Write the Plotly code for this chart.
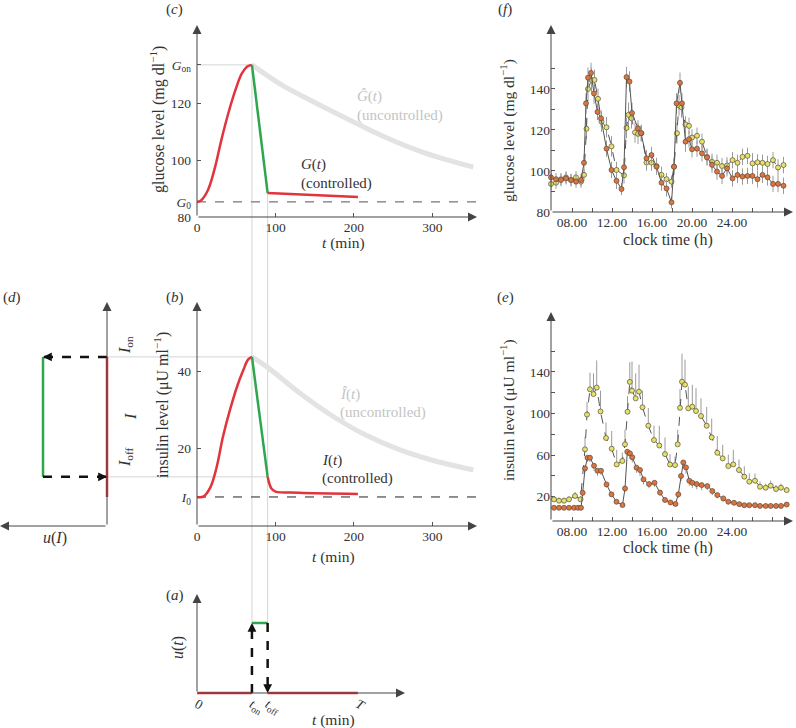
import plotly.graph_objects as go

W, H = 796, 728
FONT = "Liberation Serif, DejaVu Serif, Times New Roman, serif"
INK = "#333333"
AXIS = "#444444"
RED = "#e0353c"
GREEN = "#2ea64e"
HAT = "#e3e3e3"
GUIDE = "#d4d4d4"
DOT_RED = "#dd7440"
DOT_YEL = "#e2e46a"

# ---- schematic model (panels a-d), t in min ----
t_on, t_off, T_end = 70, 90, 205
G0, G_on = 85.3, 133.4
I0, I_on, I_off = 7.5, 43.7, 12.7

g_rise_t = [0, 5, 14, 23, 31, 40, 49, 57, 64, 70]
g_rise = [85.3, 85.8, 89.5, 97.5, 107, 116.5, 124.6, 130.3, 132.8, 133.4]
g_fall_t = [70, 90]
g_fall = [133.4, 88.4]
g_tail_t = [90, 205]
g_tail = [88.4, 87.0]
g_hat_t = [70, 110, 150, 195, 240, 290, 352]
g_hat = [133.4, 126.0, 120.2, 114.0, 108.0, 102.5, 97.5]

i_rise_t = [0, 8, 17, 25, 33, 42, 51, 59, 65, 70]
i_rise = [7.5, 7.6, 10, 15.2, 23, 30, 36, 40.3, 43, 43.7]
i_fall_t = [70, 90]
i_fall = [43.7, 12.7]
i_tail_t = [90, 95, 100, 130, 205]
i_tail = [12.7, 9.6, 8.9, 8.6, 8.3]
i_hat_t = [70, 90, 130, 172, 215, 257, 300, 352]
i_hat = [43.7, 41.0, 34.5, 28.5, 23.5, 19.8, 17.0, 14.5]

# ---- measured profiles (panels e, f), clock time in hours ----
glc_red_t = [5.9, 6.4, 6.9, 7.4, 7.9, 8.4, 8.9, 9.2, 9.4, 9.6, 9.9, 10.2, 10.55, 10.9, 11.45, 11.95,
             12.45, 12.95, 13.2, 13.45, 13.75, 14.0, 14.6, 14.9, 15.45, 15.95, 16.45, 16.95, 17.45,
             17.95, 18.2, 18.45, 18.8, 19.0, 19.35, 19.7, 20.0, 20.5, 21.0, 21.5, 22.0, 22.5, 23.0,
             23.5, 24.05, 24.55, 25.05, 25.55, 26.05, 26.55, 27.05, 27.55, 28.1, 28.6, 29.15]
glc_red = [96.9, 96.0, 95.6, 96.4, 95.6, 94.8, 95.6, 104.0, 133.0, 145.5, 147.8, 137.8, 128.8, 125.7,
           110.9, 100.5, 95.2, 91.2, 101.8, 145.8, 143.6, 128.3, 120.8, 118.5, 106.2, 107.8, 102.1,
           94.3, 91.5, 84.7, 102.1, 133.0, 143.0, 133.0, 114.3, 115.5, 110.6, 110.9, 108.6, 106.6,
           103.0, 99.7, 97.6, 101.3, 96.4, 98.1, 97.3, 97.6, 97.6, 96.0, 98.1, 96.9, 93.7, 93.7, 92.8]
glc_red_err = [3, 3, 3, 3, 3, 3, 3, 4, 5, 5, 5, 5, 4, 4, 4, 4, 4, 3, 4, 5, 5, 5, 4, 4, 4, 4, 4,
               4, 4, 3, 4, 5, 5, 5, 5, 4, 4, 4, 4, 4, 4, 4, 4, 4, 4, 4, 4, 4, 4, 4, 4, 4, 4, 4, 4]

glc_yel_t = [5.9, 6.4, 6.9, 7.4, 7.9, 8.4, 8.9, 9.2, 9.45, 9.6, 9.95, 10.25, 10.6, 10.95, 11.45,
             11.95, 12.45, 13.2, 13.45, 13.65, 13.95, 14.3, 14.6, 14.95, 15.45, 15.95, 16.45, 16.95,
             17.45, 17.95, 18.2, 18.5, 18.7, 18.95, 19.35, 19.7, 20.0, 20.5, 21.0, 21.5, 22.0, 22.5,
             23.0, 23.5, 24.05, 24.55, 25.05, 25.55, 26.05, 26.55, 27.05, 27.55, 28.1, 28.6, 29.15]
glc_yel = [93.7, 94.3, 96.0, 96.9, 95.6, 96.9, 94.8, 98.1, 120.6, 140.0, 144.4, 144.4, 135.2, 124.1,
           121.3, 112.0, 100.5, 97.9, 121.0, 127.4, 125.7, 118.8, 118.1, 118.4, 104.1, 104.1, 102.4,
           98.1, 96.0, 94.8, 102.1, 118.4, 132.0, 131.0, 122.7, 122.0, 116.3, 117.2, 114.3, 106.9,
           104.5, 104.0, 102.4, 102.7, 105.3, 104.0, 106.9, 107.4, 103.7, 104.2, 104.0, 103.4,
           105.3, 101.7, 102.9]
glc_yel_err = [3, 3, 3, 3, 3, 3, 3, 3, 5, 6, 6, 5, 5, 5, 5, 5, 4, 4, 5, 6, 5, 5, 5, 4, 4, 4, 4,
               4, 3, 3, 4, 5, 5, 5, 4, 4, 4, 4, 4, 4, 4, 4, 4, 4, 4, 4, 4, 4, 5, 4, 4, 4, 4, 4, 4]

ins_red_t = [6.2, 6.7, 7.2, 7.7, 8.2, 8.6, 8.9, 9.07, 9.3, 9.55, 9.8, 10.2, 10.55, 10.9, 11.45,
             11.95, 12.45, 13.05, 13.3, 13.53, 13.8, 14.03, 14.45, 14.8, 15.15, 15.7, 16.25, 16.8,
             17.3, 17.85, 18.35, 18.63, 18.9, 19.13, 19.4, 19.73, 20.03, 20.47, 20.97, 21.53, 22.03,
             22.53, 23.13, 23.63, 24.2, 24.73, 25.23, 25.73, 26.3, 26.8, 27.37, 27.87, 28.4, 28.9, 29.47]
ins_red = [9.4, 9.4, 9.4, 9.4, 9.4, 9.4, 9.4, 23.8, 47.3, 57.5, 57.5, 49.8, 45.0, 45.0, 31.9, 22.3,
           15.2, 12.0, 28.0, 63.3, 61.7, 57.9, 48.0, 45.7, 36.7, 32.2, 33.5, 24.0, 16.9, 14.5, 13.1,
           22.3, 40.0, 53.0, 48.2, 35.4, 33.5, 32.2, 31.2, 30.3, 25.5, 21.6, 18.4, 15.2, 14.2, 12.9,
           11.9, 11.9, 11.9, 11.2, 11.2, 11.2, 11.2, 11.2, 12.5]
ins_red_err = [1, 1, 1, 1, 1, 1, 1, 3, 4, 4, 4, 5, 5, 4, 3, 2, 2, 1, 3, 4, 5, 5, 5, 6, 5, 4, 4,
               3, 2, 2, 1, 3, 5, 6, 6, 5, 5, 5, 5, 4, 4, 3, 3, 2, 2, 2, 2, 1, 1, 1, 1, 1, 1, 1, 1]

ins_yel_t = [6.2, 6.7, 7.2, 7.7, 8.3, 8.85, 9.3, 9.5, 9.8, 10.15, 10.47, 10.85, 11.4, 11.97, 12.47,
             13.03, 13.3, 13.55, 13.78, 14.0, 14.37, 14.7, 15.05, 15.63, 16.2, 16.73, 17.3, 17.8,
             18.3, 18.57, 18.8, 19.0, 19.3, 19.63, 20.03, 20.4, 20.9, 21.47, 21.97, 22.53, 23.07,
             23.63, 24.13, 24.7, 25.23, 25.73, 26.3, 26.8, 27.37, 27.87, 28.4, 28.9, 29.47]
ins_yel = [17.5, 16.2, 16.2, 17.5, 20.7, 17.5, 65.6, 99.0, 123.3, 118.7, 125.0, 102.0, 76.5, 66.2,
           51.1, 54.4, 70.4, 101.7, 130.4, 122.0, 114.6, 121.0, 106.0, 88.3, 74.5, 69.3, 61.0, 51.0,
           50.5, 70.4, 105.5, 130.6, 127.8, 105.0, 106.6, 102.4, 97.6, 88.3, 77.1, 62.3, 56.9, 49.5,
           51.1, 45.7, 39.3, 34.5, 35.4, 29.6, 28.7, 30.6, 27.4, 28.7, 26.4]
ins_yel_err = [3, 3, 3, 3, 4, 3, 12, 12, 16, 20, 26, 20, 15, 17, 14, 8, 14, 15, 19, 28, 24, 26, 16,
               17, 14, 19, 16, 10, 8, 14, 18, 27, 24, 21, 21, 22, 17, 18, 18, 16, 13, 11, 14, 10,
               10, 8, 7, 5, 4, 5, 4, 4, 3]

hour_ticks = [6, 8, 10, 12, 14, 16, 18, 20, 22, 24, 26, 28]
hour_text = ["", "08.00", "", "12.00", "", "16.00", "", "20.00", "", "24.00", "", ""]


def dx(a, b):
    return [a / W, b / W]


def dy(top, bottom):
    return [1 - bottom / H, 1 - top / H]


def frac(v, dom, rng):
    return dom[0] + (v - rng[0]) / (rng[1] - rng[0]) * (dom[1] - dom[0])


# subplot frames
c_x, c_xr = dx(197, 477), [0, 356.7]
c_y, c_yr = dy(25, 217), [80, 147.4]
b_x, b_xr = dx(197, 477), [0, 356.7]
b_y, b_yr = dy(302, 526), [0, 57.9]
a_x, a_xr = dx(197, 405), [0, 265]
a_y, a_yr = dy(594, 700), [-0.1, 1.414]
d_x, d_xr = dx(0, 112), [1.672, -0.078]
d_y, d_yr = b_y, b_yr
f_x, f_xr = dx(551, 793), [5.9, 30.1]
f_y, f_yr = dy(25, 212), [80, 171.2]
e_x, e_xr = dx(551, 793), [5.9, 30.1]
e_y, e_yr = dy(312, 521), [-3.3, 197.6]

fig = go.Figure()


def curve(x, y, ax, color, width, dash=None, spline=True):
    fig.add_trace(go.Scatter(
        x=x, y=y, mode="lines", xaxis="x" + ax, yaxis="y" + ax, hoverinfo="skip",
        line=dict(color=color, width=width, dash=dash, shape="spline" if spline else "linear")))


# (c) glucose schematic
curve([0, c_xr[1]], [G0, G0], "", "#777777", 1.2, dash="dash", spline=False)
curve(g_hat_t, g_hat, "", HAT, 5)
curve(g_rise_t, g_rise, "", RED, 2.5)
curve(g_fall_t, g_fall, "", GREEN, 2.5, spline=False)
curve(g_tail_t, g_tail, "", RED, 2.5, spline=False)

# (b) insulin schematic
curve([0, b_xr[1]], [I0, I0], "2", "#222222", 1, dash="dash", spline=False)
curve(i_hat_t, i_hat, "2", HAT, 5)
curve(i_rise_t, i_rise, "2", RED, 2.5)
curve(i_fall_t, i_fall, "2", GREEN, 2.5, spline=False)
curve(i_tail_t, i_tail, "2", RED, 2.5)

# (a) switching signal u(t)
curve([0, t_on], [0, 0], "3", RED, 2.5, spline=False)
curve([t_on, t_off], [1, 1], "3", GREEN, 2.5, spline=False)
curve([t_off, T_end], [0, 0], "3", RED, 2.5, spline=False)
curve([t_on, t_on], [0, 1], "3", "#111111", 2.5, dash="dash", spline=False)
curve([t_off, t_off], [1, 0], "3", "#111111", 2.5, dash="dash", spline=False)

# (d) hysteresis u(I)
curve([0, 0], [I0, I_on], "4", RED, 2.5, spline=False)
curve([1, 1], [I_off, I_on], "4", GREEN, 2.5, spline=False)
curve([0, 1], [I_on, I_on], "4", "#111111", 2.5, dash="dash", spline=False)
curve([1, 0], [I_off, I_off], "4", "#111111", 2.5, dash="dash", spline=False)


def profile(t, v, err, ax, fill, dash, up=True, down=True):
    fig.add_trace(go.Scatter(
        x=t, y=v, mode="lines+markers", xaxis="x" + ax, yaxis="y" + ax, cliponaxis=False,
        hoverinfo="skip",
        line=dict(color="#555555", width=1, dash=dash),
        marker=dict(size=5, color=fill, line=dict(color="#5a4a3a", width=0.7)),
        error_y=dict(type="data", symmetric=False,
                     array=err if up else [0] * len(err),
                     arrayminus=err if down else [0] * len(err),
                     color="#9a9a9a", thickness=1, width=0)))


# (f) glucose data, (e) insulin data
profile(glc_yel_t, glc_yel, glc_yel_err, "5", DOT_YEL, "dash")
profile(glc_red_t, glc_red, glc_red_err, "5", DOT_RED, "solid")
profile(ins_yel_t, ins_yel, ins_yel_err, "6", DOT_YEL, "dash", down=False)
profile(ins_red_t, ins_red, ins_red_err, "6", DOT_RED, "solid", up=False)

tickfont = dict(family=FONT, size=13.5, color=INK)


def axis(dom, rng, anchor, **kw):
    a = dict(domain=dom, range=rng, anchor=anchor, showgrid=False, zeroline=False,
             showline=False, automargin=False, ticks="inside", ticklen=4, tickwidth=1,
             tickcolor="#555555", tickfont=tickfont, layer="below traces")
    a.update(kw)
    return a


fig.update_layout(
    template="none",
    width=W, height=H, margin=dict(l=0, r=0, t=0, b=0, autoexpand=False),
    font=dict(family=FONT, size=14, color=INK),
    paper_bgcolor="white", plot_bgcolor="rgba(0,0,0,0)", showlegend=False,
    xaxis=axis(c_x, c_xr, "y", tickvals=[0, 100, 200, 300]),
    yaxis=axis(c_y, c_yr, "x", tickvals=[80, G0, 100, 120, G_on], ticklabelstandoff=5,
               ticktext=["80", "<i>G</i><sub>0</sub>", "100", "120", "<i>G</i><sub>on</sub>"]),
    xaxis2=axis(b_x, b_xr, "y2", tickvals=[0, 100, 200, 300]),
    yaxis2=axis(b_y, b_yr, "x2", tickvals=[I0, 20, 40], ticklabelstandoff=5,
                ticktext=["<i>I</i><sub>0</sub>", "20", "40"]),
    xaxis3=axis(a_x, a_xr, "free", position=1 - 693 / H, ticks="",
                tickvals=[0, t_on, t_off, T_end],
                ticktext=["0", "<i>t</i><sub>on</sub>", "<i>t</i><sub>off</sub>", "<i>T</i>"]),
    yaxis3=axis(a_y, a_yr, "x3", ticks="", showticklabels=False),
    xaxis4=axis(d_x, d_xr, "y4", ticks="", showticklabels=False),
    yaxis4=axis(d_y, d_yr, "x4", ticks="", showticklabels=False),
    xaxis5=axis(f_x, f_xr, "y5", tickvals=hour_ticks, ticktext=hour_text),
    yaxis5=axis(f_y, f_yr, "x5", tickvals=[80, 90, 100, 110, 120, 130, 140, 150],
                ticktext=["80", "", "100", "", "120", "", "140", ""]),
    xaxis6=axis(e_x, e_xr, "y6", tickvals=hour_ticks, ticktext=hour_text),
    yaxis6=axis(e_y, e_yr, "x6", tickvals=[20, 40, 60, 80, 100, 120, 140, 160],
                ticktext=["20", "", "60", "", "100", "", "140", ""]),
)

# light guide lines linking the panels
guides = [
    (frac(t_on, c_x, c_xr), frac(1, a_y, a_yr), frac(t_on, c_x, c_xr), frac(G_on, c_y, c_yr)),
    (frac(t_off, c_x, c_xr), frac(1, a_y, a_yr), frac(t_off, c_x, c_xr), frac(g_fall[-1], c_y, c_yr)),
    (frac(0, c_x, c_xr), frac(G_on, c_y, c_yr), frac(t_on, c_x, c_xr), frac(G_on, c_y, c_yr)),
    (frac(0, d_x, d_xr), frac(I_on, b_y, b_yr), frac(t_on, b_x, b_xr), frac(I_on, b_y, b_yr)),
    (frac(0, d_x, d_xr), frac(I_off, b_y, b_yr), frac(t_off, b_x, b_xr), frac(I_off, b_y, b_yr)),
]
for x0, y0, x1, y1 in guides:
    fig.add_shape(type="line", xref="paper", yref="paper", x0=x0, y0=y0, x1=x1, y1=y1,
                  line=dict(color=GUIDE, width=1), layer="below")


def axis_arrow(ax, x0, y0, x1, y1):
    fig.add_annotation(xref="x" + ax, yref="y" + ax, axref="x" + ax, ayref="y" + ax,
                       x=x1, y=y1, ax=x0, ay=y0, text="", showarrow=True,
                       arrowhead=2, arrowsize=1.8, arrowwidth=1, arrowcolor=AXIS)


axis_arrow("", 0, c_yr[0], c_xr[1], c_yr[0])
axis_arrow("", 0, c_yr[0], 0, c_yr[1])
axis_arrow("2", 0, 0, b_xr[1], 0)
axis_arrow("2", 0, 0, 0, b_yr[1])
axis_arrow("3", 0, 0, a_xr[1], 0)
axis_arrow("3", 0, 0, 0, a_yr[1])
axis_arrow("4", 0, 0, d_xr[0], 0)
axis_arrow("4", 0, 0, 0, d_yr[1])
axis_arrow("5", f_xr[0], f_yr[0], f_xr[1], f_yr[0])
axis_arrow("5", f_xr[0], f_yr[0], f_xr[0], f_yr[1])
axis_arrow("6", e_xr[0], e_yr[0], e_xr[1], e_yr[0])
axis_arrow("6", e_xr[0], e_yr[0], e_xr[0], e_yr[1])


def head(ax, x, y, px, py):
    fig.add_annotation(xref="x" + ax, yref="y" + ax, x=x, y=y, ax=px, ay=py, text="",
                       showarrow=True, arrowhead=2, arrowsize=0.8, arrowwidth=2.2,
                       arrowcolor="#111111")


head("3", t_on, 1, 0, 9)
head("3", t_off, 0, 0, -9)
head("4", 1, I_on, 9, 0)
head("4", 0, I_off, -9, 0)


def label(text, x, y, size=15, color=INK, angle=0, xanchor="center"):
    fig.add_annotation(text=text, x=x / W, y=1 - y / H, xref="paper", yref="paper",
                       showarrow=False, textangle=angle, xanchor=xanchor, yanchor="middle",
                       font=dict(family=FONT, size=size, color=color))


# panel letters
label("(<i>c</i>)", 174, 10)
label("(<i>f</i>)", 505, 10)
label("(<i>d</i>)", 12, 297)
label("(<i>b</i>)", 175, 297)
label("(<i>e</i>)", 505, 297)
label("(<i>a</i>)", 175, 595)

# axis titles
label("glucose level (mg dl<sup>−1</sup>)", 158, 120, size=16, angle=-90)
label("insulin level (μU ml<sup>−1</sup>)", 161, 405, size=16, angle=-90)
label("glucose level (mg dl<sup>−1</sup>)", 507, 131, size=15.5, angle=-90)
label("insulin level (μU ml<sup>−1</sup>)", 507, 410, size=15.5, angle=-90)
label("<i>t</i> (min)", 343, 243, size=15.5)
label("<i>t</i> (min)", 333, 557, size=15.5)
label("<i>t</i> (min)", 333, 720, size=15.5)
label("clock time (h)", 668, 240, size=16)
label("clock time (h)", 668, 548, size=16)
label("<i>u</i>(<i>t</i>)", 178, 648, size=16, angle=-90)
label("<i>u</i>(<i>I</i>)", 55, 538, size=16)
label("<i>I</i><sub>on</sub>", 125, 345, size=16, angle=-90)
label("<i>I</i>", 130, 417, size=16, angle=-90)
label("<i>I</i><sub>off</sub>", 125, 458, size=16, angle=-90)

# curve labels
label("<i>Ĝ</i>(<i>t</i>)", 355, 97, color="#c4c4c4", xanchor="left")
label("(uncontrolled)", 355, 115, color="#c4c4c4", xanchor="left")
label("<i>G</i>(<i>t</i>)", 299, 165, xanchor="left")
label("(controlled)", 299, 183, xanchor="left")
label("<i>Î</i>(<i>t</i>)", 338, 395, color="#c4c4c4", xanchor="left")
label("(uncontrolled)", 338, 412, color="#c4c4c4", xanchor="left")
label("<i>I</i>(<i>t</i>)", 320, 460, xanchor="left")
label("(controlled)", 320, 478, xanchor="left")

fig.write_html("out.html", config={"displayModeBar": False},
               post_script="document.body.style.margin='0px';")
